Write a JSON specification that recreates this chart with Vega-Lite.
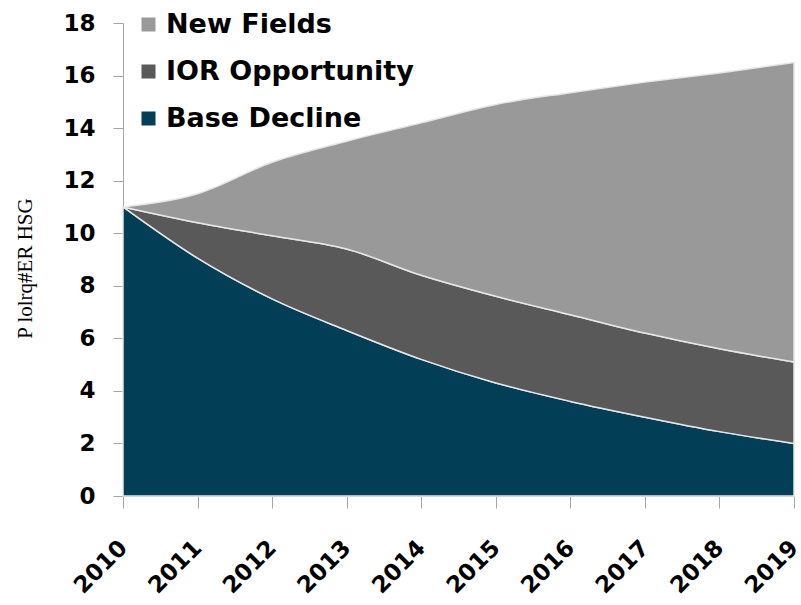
{
  "$schema": "https://vega.github.io/schema/vega-lite/v6.json",
  "autosize": {"type": "none"},
  "width": 671,
  "height": 473,
  "padding": {"left": 123, "top": 23, "right": 7, "bottom": 109},
  "background": "white",
  "config": {"view": {"stroke": null}},
  "data": {
    "values": [
      {"year": 2010, "series": "Base Decline", "o": 1, "value": 11.0},
      {"year": 2011, "series": "Base Decline", "o": 1, "value": 9.05},
      {"year": 2012, "series": "Base Decline", "o": 1, "value": 7.5},
      {"year": 2013, "series": "Base Decline", "o": 1, "value": 6.3},
      {"year": 2014, "series": "Base Decline", "o": 1, "value": 5.2},
      {"year": 2015, "series": "Base Decline", "o": 1, "value": 4.3},
      {"year": 2016, "series": "Base Decline", "o": 1, "value": 3.6},
      {"year": 2017, "series": "Base Decline", "o": 1, "value": 3.0},
      {"year": 2018, "series": "Base Decline", "o": 1, "value": 2.45},
      {"year": 2019, "series": "Base Decline", "o": 1, "value": 2.0},
      {"year": 2010, "series": "IOR Opportunity", "o": 2, "value": 0.0},
      {"year": 2011, "series": "IOR Opportunity", "o": 2, "value": 1.35},
      {"year": 2012, "series": "IOR Opportunity", "o": 2, "value": 2.4},
      {"year": 2013, "series": "IOR Opportunity", "o": 2, "value": 3.1},
      {"year": 2014, "series": "IOR Opportunity", "o": 2, "value": 3.2},
      {"year": 2015, "series": "IOR Opportunity", "o": 2, "value": 3.3},
      {"year": 2016, "series": "IOR Opportunity", "o": 2, "value": 3.3},
      {"year": 2017, "series": "IOR Opportunity", "o": 2, "value": 3.2},
      {"year": 2018, "series": "IOR Opportunity", "o": 2, "value": 3.15},
      {"year": 2019, "series": "IOR Opportunity", "o": 2, "value": 3.1},
      {"year": 2010, "series": "New Fields", "o": 3, "value": 0.0},
      {"year": 2011, "series": "New Fields", "o": 3, "value": 1.1},
      {"year": 2012, "series": "New Fields", "o": 3, "value": 2.8},
      {"year": 2013, "series": "New Fields", "o": 3, "value": 4.1},
      {"year": 2014, "series": "New Fields", "o": 3, "value": 5.8},
      {"year": 2015, "series": "New Fields", "o": 3, "value": 7.3},
      {"year": 2016, "series": "New Fields", "o": 3, "value": 8.45},
      {"year": 2017, "series": "New Fields", "o": 3, "value": 9.55},
      {"year": 2018, "series": "New Fields", "o": 3, "value": 10.5},
      {"year": 2019, "series": "New Fields", "o": 3, "value": 11.4}
    ]
  },
  "mark": {"type": "area", "interpolate": "monotone", "stroke": "#e6e6e6", "strokeWidth": 1.5},
  "encoding": {
    "x": {
      "field": "year",
      "type": "quantitative",
      "scale": {"domain": [2010, 2019], "nice": false, "zero": false},
      "axis": {
        "title": null,
        "values": [2010, 2011, 2012, 2013, 2014, 2015, 2016, 2017, 2018, 2019],
        "format": "d",
        "grid": false,
        "domainColor": "#a6a6a6",
        "tickColor": "#a6a6a6",
        "tickSize": 12,
        "labelAngle": -45,
        "labelAlign": "right",
        "labelBaseline": "middle",
        "labelPadding": 36,
        "labelDx": -6,
        "labelDy": -4,
        "labelFont": "DejaVu Sans",
        "labelFontWeight": "bold",
        "labelFontSize": 23,
        "labelColor": "black",
        "labelFlush": false,
        "labelOverlap": false,
        "labelBound": false
      }
    },
    "y": {
      "field": "value",
      "type": "quantitative",
      "stack": "zero",
      "scale": {"domain": [0, 18], "nice": false},
      "axis": {
        "title": "P lolrq#ER HSG",
        "titleFont": "Liberation Serif",
        "titleFontWeight": "normal",
        "titleFontSize": 21,
        "titleColor": "black",
        "titleAngle": -90,
        "titleX": -98,
        "titleY": 245,
        "titleAlign": "center",
        "titleBaseline": "middle",
        "values": [0, 2, 4, 6, 8, 10, 12, 14, 16, 18],
        "grid": false,
        "domainColor": "#a6a6a6",
        "tickColor": "#a6a6a6",
        "tickSize": 10,
        "labelPadding": 18,
        "labelFont": "DejaVu Sans",
        "labelFontWeight": "bold",
        "labelFontSize": 23,
        "labelColor": "black"
      }
    },
    "color": {
      "field": "series",
      "type": "nominal",
      "scale": {
        "domain": ["New Fields", "IOR Opportunity", "Base Decline"],
        "range": ["#999999", "#595959", "#023f57"]
      },
      "legend": {
        "title": null,
        "orient": "none",
        "legendX": 12,
        "legendY": -12,
        "symbolType": "square",
        "symbolSize": 196,
        "symbolStrokeWidth": 0,
        "labelFont": "DejaVu Sans",
        "labelFontWeight": "bold",
        "labelFontSize": 27,
        "labelColor": "black",
        "labelLimit": 0,
        "rowPadding": 19,
        "labelOffset": 4
      }
    },
    "order": {"field": "o", "type": "quantitative"}
  }
}
